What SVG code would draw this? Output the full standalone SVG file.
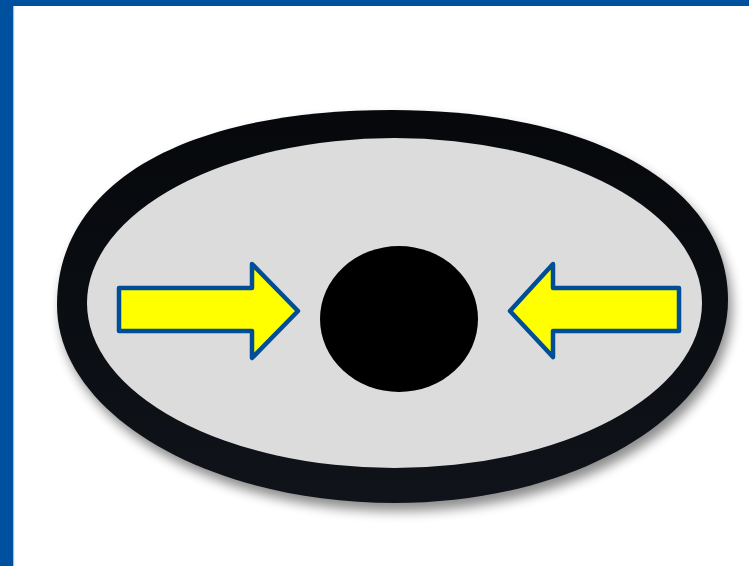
<svg xmlns="http://www.w3.org/2000/svg" width="749" height="566" viewBox="0 0 749 566">
  <defs>
    <filter id="shadow" x="-10%" y="-10%" width="120%" height="130%">
      <feGaussianBlur stdDeviation="6"/>
    </filter>
    <linearGradient id="ringGrad" x1="0" y1="0" x2="0" y2="1">
      <stop offset="0" stop-color="#06080b"/>
      <stop offset="0.5" stop-color="#0a0d12"/>
      <stop offset="1" stop-color="#10141a"/>
    </linearGradient>
    <style>
      .arrow { fill: #ffff00; stroke: #004e98; stroke-width: 4.5; stroke-linejoin: round; }
      .band { fill: #0050a0; }
    </style>
  </defs>
  <rect x="0" y="0" width="749" height="566" fill="#ffffff"/>
  <rect class="band" x="0" y="0" width="749" height="6"/>
  <rect class="band" x="0" y="0" width="13" height="566"/>
  <rect x="13" y="6" width="1.2" height="560" fill="#9fc3e8"/>

  <g id="oring">
    <path d="M57,305 C57,183 184,110 392,110 C594,110 728,186 728,300 C728,412 579,503 395,503 C208,503 57,414 57,305 Z" transform="translate(4,8)" fill="#000" opacity="0.45" filter="url(#shadow)"/>
    <path d="M57,305 C57,183 184,110 392,110 C594,110 728,186 728,300 C728,412 579,503 395,503 C208,503 57,414 57,305 Z" fill="url(#ringGrad)"/>
    <ellipse cx="394.5" cy="303" rx="307.5" ry="165" fill="#dcdcdc"/>
  </g>

  <g id="ball">
    <ellipse cx="399" cy="319" rx="79" ry="73" fill="#000"/>
  </g>

  <g id="arrows">
    <g id="arrow-left">
      <path class="arrow" d="M119,288 L252,288 L252,264 L298,311 L252,358 L252,331 L119,331 Z"/>
    </g>
    <g id="arrow-right">
      <path class="arrow" d="M679,288 L553,288 L553,264 L510,311 L553,357 L553,331 L679,331 Z"/>
    </g>
  </g>
</svg>
